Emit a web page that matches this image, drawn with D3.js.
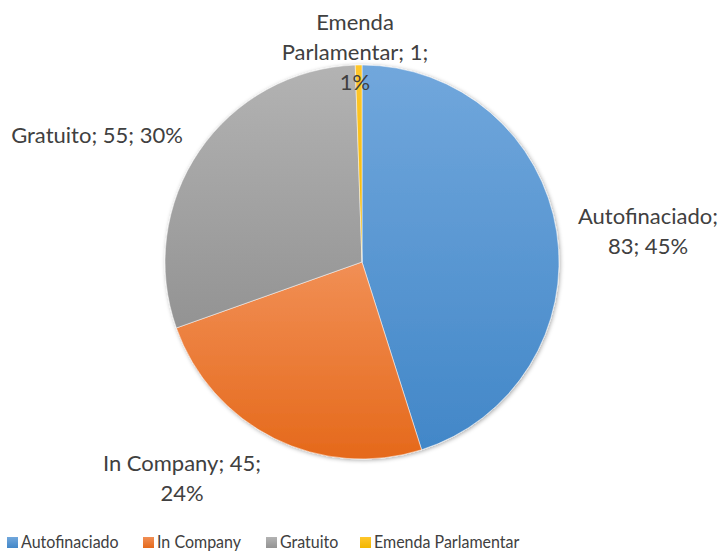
<!DOCTYPE html>
<html>
<head>
<meta charset="utf-8">
<script src="https://cdn.jsdelivr.net/npm/d3@7"></script>
<style>
  body { margin: 0; background: #fff; }
  text { font-family: Lato, "Open Sans", sans-serif; fill: #404040; }
</style>
</head>
<body>
<svg id="chart" width="727" height="551"></svg>
<script>
const categories = ["Autofinaciado", "In Company", "Gratuito", "Emenda Parlamentar"]
const values = [83, 45, 55, 1]
const percents = ["45%", "24%", "30%", "1%"]
const labelLines = [
    ["Autofinaciado;", "83; 45%"],
    ["In Company; 45;", "24%"],
    ["Gratuito; 55; 30%"],
    ["Emenda", "Parlamentar; 1;", "1%"]
]

const colors = [
    { top: "#71A7DC", bottom: "#4287C8" },
    { top: "#F18F55", bottom: "#E5691B" },
    { top: "#B3B3B3", bottom: "#939393" },
    { top: "#FFC72C", bottom: "#F2B600" }
]

// label centre x and first baseline y
const labelPos = [[648, 224], [182, 471], [97, 143], [355, 30]]

const svg = d3.select("#chart")
const cx = 362, cy = 262, radius = 197

const defs = svg.append("defs")
colors.forEach((c, i) => {
    let g = defs.append("linearGradient").attr("id", "grad" + i)
        .attr("x1", 0).attr("y1", 0).attr("x2", 0).attr("y2", 1)
    g.append("stop").attr("offset", "0%").attr("stop-color", c.top)
    g.append("stop").attr("offset", "100%").attr("stop-color", c.bottom)
})
let shadow = defs.append("filter").attr("id", "shadow")
    .attr("x", "-10%").attr("y", "-10%").attr("width", "120%").attr("height", "120%")
shadow.append("feDropShadow").attr("dx", 1).attr("dy", 1).attr("stdDeviation", 2)
    .attr("flood-color", "#000").attr("flood-opacity", 0.35)

const pie = d3.pie().sort(null).value(d => d)
const arc = d3.arc().innerRadius(0).outerRadius(radius)
const arcs = pie(values)

const g = svg.append("g").attr("transform", `translate(${cx},${cy})`)
    .attr("filter", "url(#shadow)")
g.selectAll("path").data(arcs).enter().append("path")
    .attr("d", arc)
    .attr("fill", (d, i) => `url(#grad${i})`)
    .attr("stroke", "#fff")
    .attr("stroke-width", 0.5)

// data labels
const lineH = 30
labelLines.forEach((lines, i) => {
    let [x, y] = labelPos[i]
    let t = svg.append("text")
        .attr("text-anchor", "middle")
        .attr("font-size", 22)
    lines.forEach((l, j) => {
        t.append("tspan")
            .attr("x", x)
            .attr("y", y + j * lineH)
            .text(l)
    })
})

// legend (text squeezed a little horizontally, like the narrow original font)
const legendX = [7, 143, 266, 360]
const legend = svg.append("g").attr("class", "legend")
categories.forEach((name, i) => {
    let item = legend.append("g").attr("transform", `translate(${legendX[i]},537)`)
    item.append("rect").attr("width", 11).attr("height", 11)
        .attr("fill", `url(#grad${i})`)
    item.append("text")
        .attr("transform", "translate(14,11) scale(0.89,1)")
        .attr("font-size", 18)
        .text(name)
})
</script>
</body>
</html>
